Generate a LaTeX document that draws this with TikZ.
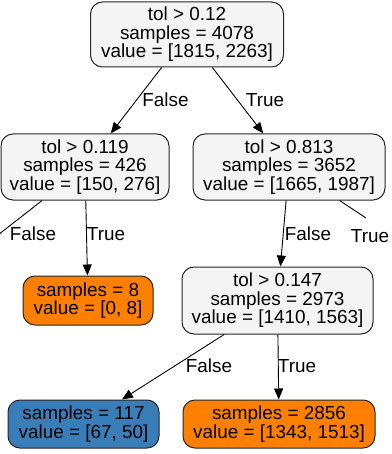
\documentclass[tikz,border=0pt]{standalone}
\usepackage{fontspec}
\setmainfont{Liberation Sans}
\usepackage{tikz}
\usetikzlibrary{arrows.meta,shapes,positioning}
\definecolor{splitGray} {RGB}{244, 244, 244}
\definecolor{leafOrange}{RGB}{255, 128,   0}
\definecolor{leafBlue}  {RGB}{ 58, 126, 185}
\newcommand{\treefont}{\fontsize{18.9}{18.6}\selectfont}

\begin{document}
\begin{tikzpicture}[x=1pt,y=-1pt,
          splitno/.style={rectangle,rounded corners=12pt,draw=black!85,fill=splitGray,
                          align=center,font=\treefont,inner sep=0pt,line width=1pt},
          leafno/.style={splitno,fill=leafOrange},
          edgelbl/.style={font=\treefont},
          edgearr/.style={-{Triangle[length=11pt,width=9pt]},line width=0.9pt},
        ]
        \clip[use as bounding box] (0,0) rectangle (391,454);

        % SPLITS
        \node[splitno,minimum width=193pt,minimum height=65pt] (r)   at (187,34.5)
          {tol > 0.12\\samples = 4078\\value = [1815, 2263]};
        \node[splitno,minimum width=168pt,minimum height=66pt] (l)   at (85,167)
          {tol > 0.119\\samples = 426\\value = [150, 276]};
        \node[splitno,minimum width=192pt,minimum height=66pt] (rr)  at (289,167)
          {tol > 0.813\\samples = 3652\\value = [1665, 1987]};
        \node[splitno,minimum width=191pt,minimum height=67pt] (rrl) at (277.5,300.5)
          {tol > 0.147\\samples = 2973\\value = [1410, 1563]};

        % LEAVES
        \node[leafno,minimum width=130pt,minimum height=49pt] (lr)   at (88,300.5)
          {samples = 8\\value = [0, 8]};
        \node[leafno,fill=leafBlue,minimum width=151pt,minimum height=48pt] (rrll) at (83.5,424)
          {samples = 117\\value = [67, 50]};
        \node[leafno,minimum width=192pt,minimum height=48pt] (rrlr) at (279,424)
          {samples = 2856\\value = [1343, 1513]};

        % branches leaving the picture
        \coordinate (loff) at (-20,249);
        \coordinate (roff) at (366,218);

        \draw[edgearr] (r)--(l);
        \draw[edgearr] (r)--(rr);
        \draw[line width=0.9pt] (l)--(loff);
        \draw[edgearr] (l)--(lr);
        \draw[edgearr] (rr)--(rrl);
        \draw[line width=0.9pt] (rr)--(roff);
        \draw[edgearr] (rrl)--(rrll);
        \draw[edgearr] (rrl)--(rrlr);

        \node[edgelbl] (f1) at (165.5,100) {False};
        \node[edgelbl] (t1) at (265,100)   {True};
        \node[edgelbl] (f2) at (33,234)    {False};
        \node[edgelbl] (t2) at (106,234)   {True};
        \node[edgelbl] (f3) at (308,234)   {False};
        \node[edgelbl] (t3) at (370,236)   {True};
        \node[edgelbl] (f4) at (209,366)   {False};
        \node[edgelbl] (t4) at (297,366)   {True};
      \end{tikzpicture}
\end{document}
